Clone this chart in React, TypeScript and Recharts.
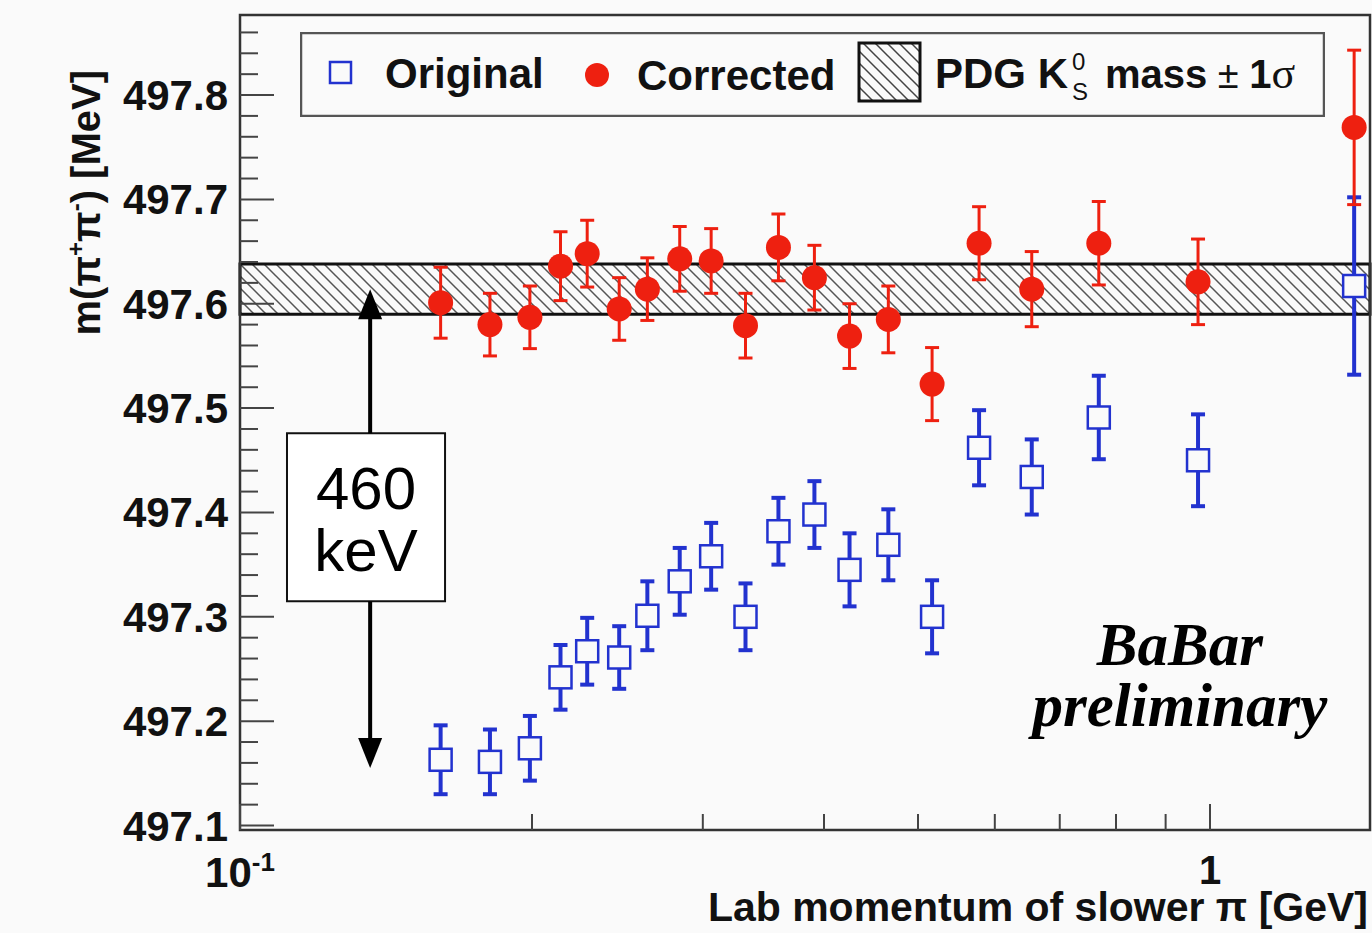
import React from "react";
import {
  ComposedChart,
  Scatter,
  ErrorBar,
  XAxis,
  YAxis,
  ReferenceArea,
  ReferenceLine,
  ReferenceDot,
  Legend,
  Label,
} from "recharts";

// lab momentum of the slower pion (GeV), bin centres
const momentum = [
  0.161, 0.181, 0.199, 0.214, 0.228, 0.246, 0.263, 0.284, 0.306, 0.332,
  0.359, 0.391, 0.425, 0.466, 0.517, 0.578, 0.655, 0.768, 0.972, 1.408,
];

const original = [
  497.163, 497.161, 497.174, 497.242, 497.267, 497.261, 497.301, 497.334,
  497.358, 497.3, 497.382, 497.398, 497.345, 497.369, 497.3, 497.462,
  497.434, 497.491, 497.45, 497.617,
];
const originalErr = [
  0.033, 0.031, 0.031, 0.031, 0.032, 0.03, 0.033, 0.032, 0.032, 0.032,
  0.032, 0.032, 0.035, 0.034, 0.035, 0.036, 0.036, 0.04, 0.044, 0.085,
];

const corrected = [
  497.601, 497.58, 497.587, 497.636, 497.648, 497.595, 497.614, 497.643,
  497.641, 497.579, 497.654, 497.625, 497.569, 497.585, 497.523, 497.658,
  497.614, 497.658, 497.621, 497.769,
];
const correctedErr = [
  0.034, 0.03, 0.03, 0.033, 0.032, 0.03, 0.03, 0.031, 0.031, 0.031,
  0.032, 0.031, 0.031, 0.032, 0.035, 0.035, 0.036, 0.04, 0.041, 0.074,
];

// PDG K0s mass and its 1 sigma
const pdgMass = 497.614;
const pdgSigma = 0.024;

const xDomain = [0.1, 1.462];
const yDomain = [497.0957, 497.8767];
const xTicks = [0.1, 0.2, 0.3, 0.4, 0.5, 0.6, 0.7, 0.8, 0.9, 1];
const yTicks: number[] = [];
for (let i = 0; i <= 38; i++) yTicks.push(Number((497.1 + i * 0.02).toFixed(2)));

// "460 keV" annotation
const arrowX = 0.1362;
const arrowLow = 497.155;
const boxX = [0.1118, 0.1627];
const boxY = [497.315, 497.476];
const babarPos = { x: 0.931, y: 497.24 };

const BLUE = "#2232cf";
const RED = "#ee2010";
const SANS = "'Liberation Sans', Arial, sans-serif";
const SERIF = "'Liberation Serif', 'Times New Roman', serif";

const originalData = momentum.map((p, i) => ({ p, m: original[i], err: originalErr[i] }));
const correctedData = momentum.map((p, i) => ({ p, m: corrected[i], err: correctedErr[i] }));

const YTick = (props: any) => {
  const { x, y, payload } = props;
  const v = payload.value;
  const major = Math.abs(v * 10 - Math.round(v * 10)) < 1e-6;
  return (
    <g>
      <line x1={x} y1={y} x2={x + (major ? 34 : 18)} y2={y} stroke="#444" strokeWidth={2} />
      {major && (
        <text x={x - 12} y={y + 15} textAnchor="end" fontFamily={SANS} fontWeight="bold" fontSize={42} fill="#111">
          {v.toFixed(1)}
        </text>
      )}
    </g>
  );
};

const XTick = (props: any) => {
  const { x, y, payload } = props;
  const v = payload.value;
  const major = v === 0.1 || v === 1;
  return (
    <g>
      <line x1={x} y1={y} x2={x} y2={y - (major ? 26 : 16)} stroke="#444" strokeWidth={2} />
      {v === 0.1 && (
        <text x={x} y={y + 57} textAnchor="middle" fontFamily={SANS} fontWeight="bold" fontSize={42} fill="#111">
          10<tspan dy={-16} fontSize={26}>-1</tspan>
        </text>
      )}
      {v === 1 && (
        <text x={x} y={y + 54} textAnchor="middle" fontFamily={SANS} fontWeight="bold" fontSize={40} fill="#111">
          1
        </text>
      )}
    </g>
  );
};

const XTitle = (props: any) => {
  const { x, y, width } = props.viewBox;
  return (
    <text x={x + width - 2} y={y + 91} textAnchor="end" fontFamily={SANS} fontWeight="bold" fontSize={41} fill="#111">
      Lab momentum of slower π [GeV]
    </text>
  );
};

const YTitle = (props: any) => {
  const { x, y } = props.viewBox;
  return (
    <text
      transform={`translate(${x + 100},${y + 55}) rotate(-90)`}
      textAnchor="end"
      fontFamily={SANS}
      fontWeight="bold"
      fontSize={40}
      fill="#111"
    >
      m(π<tspan dy={-16} fontSize={24}>+</tspan>
      <tspan dy={16}>π</tspan>
      <tspan dy={-16} fontSize={24}>-</tspan>
      <tspan dy={16}>) [MeV]</tspan>
    </text>
  );
};

const OpenSquare = (props: any) => (
  <rect x={props.cx - 11} y={props.cy - 11} width={22} height={22} fill="#fafafa" stroke={BLUE} strokeWidth={2.5} />
);

const FilledDot = (props: any) => <circle cx={props.cx} cy={props.cy} r={12.5} fill={RED} />;

const ArrowUp = (props: any) => (
  <path d={`M${props.cx},${props.cy} L${props.cx - 12},${props.cy + 30} L${props.cx + 12},${props.cy + 30} Z`} fill="#000" />
);
const ArrowDown = (props: any) => (
  <path d={`M${props.cx},${props.cy} L${props.cx - 12},${props.cy - 30} L${props.cx + 12},${props.cy - 30} Z`} fill="#000" />
);

const BoxLabel = (props: any) => {
  const { x, y, width } = props.viewBox;
  const cx = x + width / 2;
  return (
    <g fontFamily={SANS} fontSize={60} fill="#000">
      <text x={cx} y={y + 76} textAnchor="middle">460</text>
      <text x={cx} y={y + 138} textAnchor="middle">keV</text>
    </g>
  );
};

const BabarText = (props: any) => (
  <g fontFamily={SERIF} fontStyle="italic" fontWeight="bold" fontSize={61} fill="#000">
    <text x={props.cx} y={props.cy - 14} textAnchor="middle">BaBar</text>
    <text x={props.cx} y={props.cy + 47} textAnchor="middle">preliminary</text>
  </g>
);

const LegendBox = () => (
  <svg width={1025} height={85} style={{ display: "block" }}>
    <defs>
      <pattern id="hatchLegend" patternUnits="userSpaceOnUse" width={12} height={12}>
        <path d="M-3,-3 L15,15 M-3,9 L3,15 M9,-3 L15,3" stroke="#444" strokeWidth={1.5} />
      </pattern>
    </defs>
    <rect x={1} y={1} width={1023} height={83} fill="#fafafa" stroke="#555" strokeWidth={2.5} />
    <rect x={30} y={30} width={21} height={21} fill="none" stroke={BLUE} strokeWidth={2.5} />
    <text x={85} y={56} fontFamily={SANS} fontWeight="bold" fontSize={42} fill="#111">Original</text>
    <circle cx={297} cy={43} r={12} fill={RED} />
    <text x={337} y={58} fontFamily={SANS} fontWeight="bold" fontSize={42} fill="#111">Corrected</text>
    <rect x={559} y={11} width={61} height={58} fill="url(#hatchLegend)" stroke="#111" strokeWidth={3} />
    <text x={635} y={56} fontFamily={SANS} fontWeight="bold" fontSize={42} fill="#111">PDG K</text>
    <text x={772} y={38} fontFamily={SANS} fontSize={24} fill="#111">0</text>
    <text x={772} y={68} fontFamily={SANS} fontSize={24} fill="#111">S</text>
    <text x={805} y={56} fontFamily={SANS} fontWeight="bold" fontSize={40} fill="#111">
      mass
      <tspan fontWeight="normal" fontSize={38}> ± </tspan>
      <tspan>1</tspan>
      <tspan fontFamily={SERIF} fontWeight="normal" fontSize={44}>σ</tspan>
    </text>
  </svg>
);

export default function App() {
  return (
    <div style={{ position: "absolute", left: 0, top: 0, width: 1372, height: 933, background: "#fafafa" }}>
      <ComposedChart width={1372} height={933} margin={{ top: 15, right: 2, left: 0, bottom: 0 }}>
        <defs>
          <pattern id="hatchBand" patternUnits="userSpaceOnUse" width={12} height={12}>
            <path d="M-3,-3 L15,15 M-3,9 L3,15 M9,-3 L15,3" stroke="#555" strokeWidth={1.5} />
          </pattern>
        </defs>
        <XAxis
          dataKey="p"
          type="number"
          scale="log"
          domain={xDomain}
          allowDataOverflow
          ticks={xTicks}
          interval={0}
          tick={<XTick />}
          tickSize={0}
          tickMargin={0}
          tickLine={false}
          axisLine={false}
          height={103}
        >
          <Label content={<XTitle />} />
        </XAxis>
        <YAxis
          type="number"
          domain={yDomain}
          allowDataOverflow
          ticks={yTicks}
          interval={0}
          tick={<YTick />}
          tickSize={0}
          tickMargin={0}
          tickLine={false}
          axisLine={false}
          width={240}
        >
          <Label content={<YTitle />} />
        </YAxis>
        <Legend
          verticalAlign="middle"
          layout="horizontal"
          align="center"
          content={() => <LegendBox />}
          wrapperStyle={{ position: "absolute", left: 300, top: 32, width: 1025, height: 85 }}
        />
        <ReferenceArea
          y1={pdgMass - pdgSigma}
          y2={pdgMass + pdgSigma}
          x1={xDomain[0]}
          x2={xDomain[1]}
          fill="url(#hatchBand)"
          fillOpacity={1}
          stroke="#111"
          strokeWidth={3}
        />
        <ReferenceLine
          segment={[{ x: arrowX, y: boxY[1] }, { x: arrowX, y: pdgMass - 0.01 }]}
          stroke="#000"
          strokeWidth={4}
        />
        <ReferenceLine
          segment={[{ x: arrowX, y: arrowLow + 0.01 }, { x: arrowX, y: boxY[0] }]}
          stroke="#000"
          strokeWidth={4}
        />
        <ReferenceDot x={arrowX} y={pdgMass} r={0} shape={<ArrowUp />} />
        <ReferenceDot x={arrowX} y={arrowLow} r={0} shape={<ArrowDown />} />
        <ReferenceArea
          x1={boxX[0]}
          x2={boxX[1]}
          y1={boxY[0]}
          y2={boxY[1]}
          fill="#fff"
          fillOpacity={1}
          stroke="#111"
          strokeWidth={2}
          label={<BoxLabel />}
        />
        <ReferenceDot x={babarPos.x} y={babarPos.y} r={0} shape={<BabarText />} />
        <Scatter data={originalData} dataKey="m" shape={<OpenSquare />} isAnimationActive={false}>
          <ErrorBar dataKey="err" direction="y" width={7} stroke={BLUE} strokeWidth={4} />
        </Scatter>
        <Scatter data={correctedData} dataKey="m" shape={<FilledDot />} isAnimationActive={false}>
          <ErrorBar dataKey="err" direction="y" width={7} stroke={RED} strokeWidth={3} />
        </Scatter>
        <ReferenceArea
          x1={xDomain[0]}
          x2={xDomain[1]}
          y1={yDomain[0]}
          y2={yDomain[1]}
          fill="none"
          stroke="#333"
          strokeWidth={2.5}
        />
      </ComposedChart>
    </div>
  );
}
